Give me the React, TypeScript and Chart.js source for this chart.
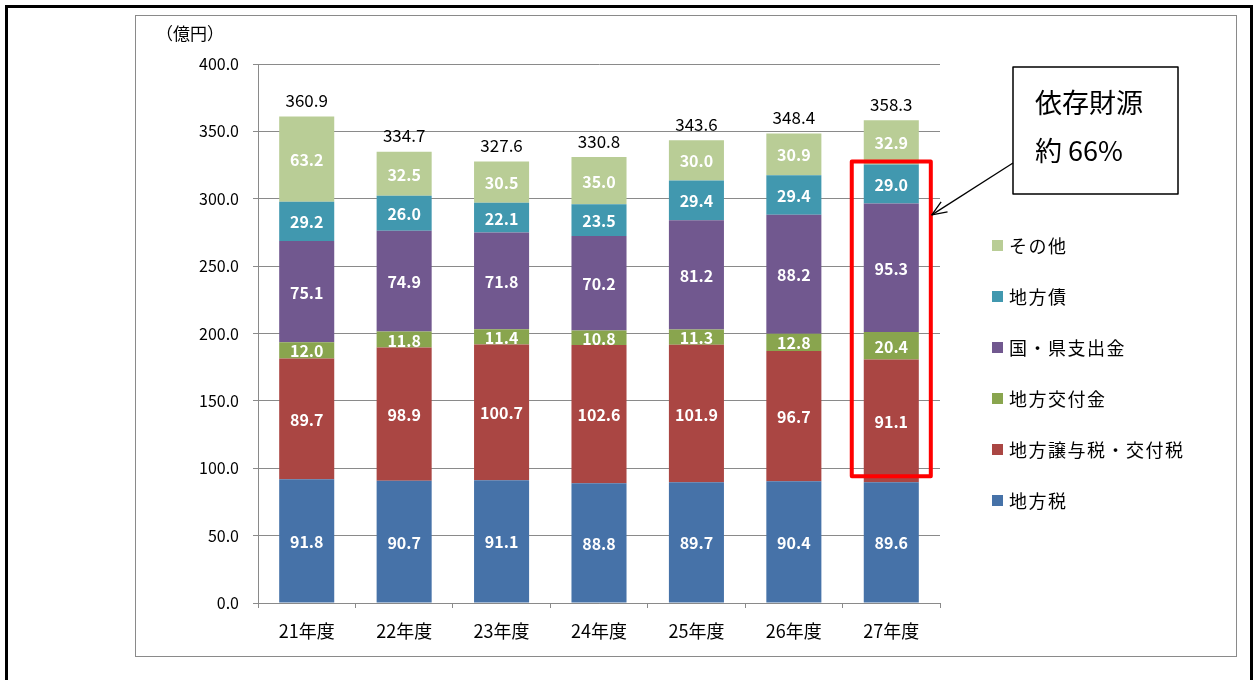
import { useEffect, useRef } from "react";
import { Chart, registerables } from "chart.js";

Chart.register(...registerables);

const categories = ["21年度", "22年度", "23年度", "24年度", "25年度", "26年度", "27年度"];
const seriesNames = ["地方税", "地方譲与税・交付税", "地方交付金", "国・県支出金", "地方債", "その他"];
const chihouzei = [91.8, 90.7, 91.1, 88.8, 89.7, 90.4, 89.6];
const jouyozei = [89.7, 98.9, 100.7, 102.6, 101.9, 96.7, 91.1];
const koufukin = [12.0, 11.8, 11.4, 10.8, 11.3, 12.8, 20.4];
const shishutsukin = [75.1, 74.9, 71.8, 70.2, 81.2, 88.2, 95.3];
const chihousai = [29.2, 26.0, 22.1, 23.5, 29.4, 29.4, 29.0];
const sonota = [63.2, 32.5, 30.5, 35.0, 30.0, 30.9, 32.9];
const totals = [360.9, 334.7, 327.6, 330.8, 343.6, 348.4, 358.3];
const seriesValues = [chihouzei, jouyozei, koufukin, shishutsukin, chihousai, sonota];
const seriesColors = ["#4672A8", "#AA4643", "#89A54E", "#71588F", "#4198AF", "#B9CD96"];
const yMin = 0;
const yMax = 400;
const yStep = 50;
const unitLabel = "（億円）";
const calloutLines = ["依存財源", "約 66%"];
const highlightIndex = 6;

const FONT = "'Noto Sans CJK JP', 'Noto Sans', sans-serif";

const decorPlugin = {
  id: "decor",
  beforeDraw(chart: any) {
    const ctx = chart.ctx;
    ctx.save();
    ctx.fillStyle = "#ffffff";
    ctx.fillRect(0, 0, chart.width, chart.height);
    ctx.restore();
  },
  afterDatasetsDraw(chart: any) {
    const ctx = chart.ctx;
    ctx.save();
    ctx.textAlign = "center";
    ctx.textBaseline = "middle";
    ctx.font = `bold 16px ${FONT}`;
    ctx.fillStyle = "#ffffff";
    chart.data.datasets.forEach((ds: any, di: number) => {
      const meta = chart.getDatasetMeta(di);
      meta.data.forEach((el: any, i: number) => {
        const v = ds.data[i];
        const cy = (el.y + el.base) / 2;
        ctx.fillText(Number(v).toFixed(1), el.x, cy + 1);
      });
    });
    const topMeta = chart.getDatasetMeta(chart.data.datasets.length - 1);
    ctx.fillStyle = "#000000";
    ctx.font = `17px ${FONT}`;
    topMeta.data.forEach((el: any, i: number) => {
      ctx.fillText(totals[i].toFixed(1), el.x, el.y - 16);
    });
    ctx.restore();
  },
  afterDraw(chart: any) {
    const ctx = chart.ctx;
    const area = chart.chartArea;
    const yScale = chart.scales.y;
    ctx.save();
    ctx.strokeStyle = "#000000";
    ctx.lineWidth = 3;
    ctx.strokeRect(6.5, 6.5, 1245, 700);
    ctx.strokeStyle = "#8a8a8a";
    ctx.lineWidth = 1;
    ctx.strokeRect(135.5, 15.5, 1101, 641);

    ctx.fillStyle = "#000000";
    ctx.font = `17px ${FONT}`;
    ctx.textAlign = "left";
    ctx.textBaseline = "middle";
    ctx.fillText(unitLabel, 156, 34);

    ctx.font = `18px ${FONT}`;
    (ctx as any).letterSpacing = "1.5px";
    const n = seriesNames.length;
    for (let k = 0; k < n; k++) {
      const si = n - 1 - k;
      const cy = 245 + k * 51;
      ctx.fillStyle = seriesColors[si];
      ctx.fillRect(992, cy - 5, 11, 11);
      ctx.fillStyle = "#000000";
      ctx.fillText(seriesNames[si], 1009, cy + 1);
    }
    (ctx as any).letterSpacing = "0px";

    const elTop = chart.getDatasetMeta(4).data[highlightIndex];
    const elBot = chart.getDatasetMeta(1).data[highlightIndex];
    const half = elTop.width / 2 + 12;
    const rx1 = elTop.x - half;
    const rx2 = elTop.x + half;
    const ry1 = elTop.y - 3;
    const ry2 = elBot.base - 6;
    ctx.strokeStyle = "#ff0000";
    ctx.lineWidth = 4;
    ctx.lineJoin = "round";
    ctx.strokeRect(rx1, ry1, rx2 - rx1, ry2 - ry1);

    const bx = area.right + 73;
    const by = 67;
    const bw = 165;
    const bh = 127;
    ctx.fillStyle = "#ffffff";
    ctx.fillRect(bx, by, bw, bh);
    ctx.strokeStyle = "#000000";
    ctx.lineWidth = 1.5;
    ctx.strokeRect(bx, by, bw, bh);
    ctx.fillStyle = "#000000";
    ctx.font = `27px ${FONT}`;
    ctx.textAlign = "left";
    ctx.textBaseline = "middle";
    ctx.fillText(calloutLines[0], bx + 22, by + 36);
    ctx.fillText(calloutLines[1], bx + 22, by + 84);

    const ax1 = bx;
    const ay1 = by + 96;
    const ax2 = rx2 + 1;
    const ay2 = yScale.getPixelForValue(288);
    ctx.strokeStyle = "#000000";
    ctx.lineWidth = 1.3;
    ctx.beginPath();
    ctx.moveTo(ax1, ay1);
    ctx.lineTo(ax2, ay2);
    ctx.stroke();
    const ang = Math.atan2(ay2 - ay1, ax2 - ax1);
    const hl = 16;
    const spread = 0.38;
    ctx.beginPath();
    ctx.moveTo(ax2 - hl * Math.cos(ang - spread), ay2 - hl * Math.sin(ang - spread));
    ctx.lineTo(ax2, ay2);
    ctx.lineTo(ax2 - hl * Math.cos(ang + spread), ay2 - hl * Math.sin(ang + spread));
    ctx.stroke();
    ctx.restore();
  },
};

export default function App() {
  const ref = useRef<HTMLCanvasElement | null>(null);
  useEffect(() => {
    if (!ref.current) return;
    Chart.defaults.font.family = FONT;
    const chart = new Chart(ref.current, {
      type: "bar",
      data: {
        labels: categories,
        datasets: seriesValues.map((vals, i) => ({
          label: seriesNames[i],
          data: vals,
          backgroundColor: seriesColors[i],
          borderWidth: 0,
          categoryPercentage: 1,
          barPercentage: 0.565,
        })),
      },
      options: {
        animation: false,
        responsive: false,
        devicePixelRatio: 1,
        layout: { padding: { left: 0, top: 64, right: 318, bottom: 0 } },
        plugins: {
          legend: { display: false },
          tooltip: { enabled: false },
        },
        scales: {
          x: {
            stacked: true,
            grid: {
              offset: true,
              drawOnChartArea: false,
              drawTicks: true,
              tickLength: 5,
              color: "#8a8a8a",
            },
            border: { color: "#8a8a8a" },
            ticks: { color: "#000000", font: { size: 18 }, padding: 12 },
            afterFit: (scale: any) => {
              scale.height = 77;
            },
          },
          y: {
            stacked: true,
            min: yMin,
            max: yMax,
            grid: { color: "#8a8a8a", tickLength: 5 },
            border: { color: "#8a8a8a" },
            ticks: {
              stepSize: yStep,
              color: "#000000",
              font: { size: 16 },
              padding: 14,
              callback: (v: any) => Number(v).toFixed(1),
            },
            afterFit: (scale: any) => {
              scale.width = 258;
            },
          },
        },
      },
      plugins: [decorPlugin],
    });
    return () => chart.destroy();
  }, []);
  return (
    <div style={{ position: "absolute", left: 0, top: 0, width: 1258, height: 680 }}>
      <canvas ref={ref} width={1258} height={680} />
    </div>
  );
}
